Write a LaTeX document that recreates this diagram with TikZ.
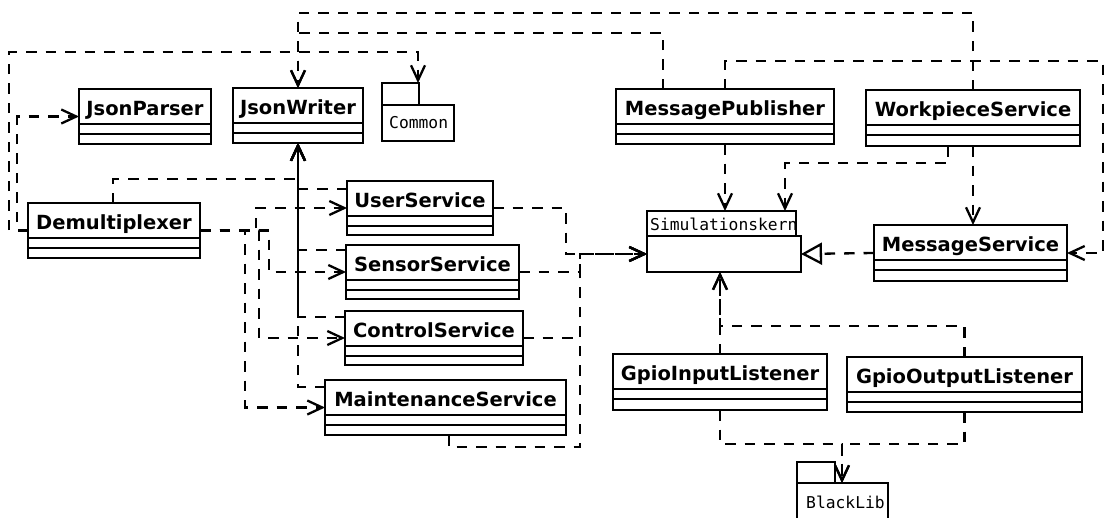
\documentclass[tikz,border=0pt]{standalone}
\usepackage{fontspec}
\newfontfamily\clsfont{DejaVu Sans}
\newfontfamily\pkgfont{DejaVu Sans Mono}
\usetikzlibrary{arrows.meta,calc}

\tikzset{
  clsbox/.style={draw, line width=2.8pt, fill=white, outer sep=0pt, inner sep=0pt, rectangle},
  pkgbox/.style={draw, line width=2.6pt, fill=white, outer sep=0pt, inner sep=0pt, rectangle},
  clsname/.style={font=\clsfont\bfseries\fontsize{19.5}{22}\selectfont, inner sep=0pt, anchor=base},
  pkgname/.style={font=\pkgfont\fontsize{16.3}{18}\selectfont, inner sep=0pt, anchor=base west},
  boxline/.style={line width=2.8pt},
  dep/.style={line width=2.3pt, dash pattern=on 10.5pt off 9pt, -{Straight Barb[length=15pt,width=14pt]}},
  real/.style={line width=2.3pt, dash pattern=on 10.5pt off 9pt, -{Triangle[open,length=21pt,width=22pt]}},
  trunkline/.style={line width=2.3pt}
}

\newcommand{\umlclass}[6]{%
  \node[clsbox, anchor=north west, minimum width={#4-#2}, minimum height={#5-#3}] (#1) at (#2,#3) {};
  \node[clsname] (#1-name) at ({(#2+#4)/2},{#3+26}) {#6};
  \draw[boxline] ($(#1.north west)+(0,35)$) -- ($(#1.north east)+(0,35)$);
  \draw[boxline] ($(#1.north west)+(0,45)$) -- ($(#1.north east)+(0,45)$);
}

\begin{document}
\begin{tikzpicture}[x=1pt,y=-1pt]
\clip (0,0) rectangle (1106,517);
\fill[white] (0,0) rectangle (1106,517);

% classes
\umlclass{jp}{79}{89}{211}{144}{JsonParser}
\umlclass{jw}{233}{88}{363}{143}{JsonWriter}
\umlclass{demux}{28}{203}{200}{258}{Demultiplexer}
\umlclass{us}{347}{181}{493}{235}{UserService}
\umlclass{ss}{346}{245}{519}{299}{SensorService}
\umlclass{cs}{345}{311}{523}{365}{ControlService}
\umlclass{ms}{325}{380}{566}{435}{MaintenanceService}
\umlclass{mp}{616}{89}{834}{144}{MessagePublisher}
\umlclass{wp}{866}{90}{1080}{146}{WorkpieceService}
\umlclass{msv}{874}{225}{1067}{281}{MessageService}
\umlclass{gi}{613}{354}{827}{410}{GpioInputListener}
\umlclass{go}{847}{357}{1082}{412}{GpioOutputListener}

% packages
\node[pkgbox, anchor=north west, minimum width=37, minimum height=22] (commontab) at (382,83) {};
\node[pkgbox, anchor=north west, minimum width=72, minimum height=36] (common) at (382,105) {};
\node[pkgname] (common-label) at (389,128) {Common};

\node[pkgbox, anchor=north west, minimum width=149, minimum height=25] (simtab) at (647,211) {};
\node[pkgbox, anchor=north west, minimum width=154, minimum height=36] (sim) at (647,236) {};
\begin{scope}
  \clip (648.2,212.2) rectangle (794.2,234.8);
  \node[pkgname] (sim-label) at (650,230) {Simulationskern};
\end{scope}

\node[pkgbox, anchor=north west, minimum width=38, minimum height=21] (bltab) at (797,462) {};
\node[pkgbox, anchor=north west, minimum width=91, minimum height=60] (bl) at (797,483) {};
\node[pkgname] (bl-label) at (806,508) {BlackLib};

% Demultiplexer dependencies
\draw[dep] (demux.west) -- (17,230.5) |- (jp.west);
\draw[dep] (demux.west) -- (9,230.5) -- (9,52) -| ($(commontab.north east)+(-1,0)$);
\draw[dep] ($(demux.north west)+(85,0)$) -- (113,179) -| (jw.south);
\draw[dep] (demux.east) -- (256,230.5) |- (us.west);
\draw[dep] (demux.east) -- (269,230.5) |- (ss.west);
\draw[dep] (demux.east) -- (259,230.5) |- (cs.west);
\draw[dep] (demux.east) -- (245,230.5) |- (ms.west);

% services -> JsonWriter
\coordinate (trunkend) at (298,317);
\draw[trunkline] (jw.south) -- (trunkend);
\draw[dep] ($(us.north west)+(0,8)$) -| (jw.south);
\draw[dep] ($(ss.north west)+(0,5)$) -| (jw.south);
\draw[dep] ($(cs.north west)+(0,6)$) -| (jw.south);
\draw[dep] ($(ms.north west)+(0,7)$) -| (jw.south);

% services -> Simulationskern
\draw[dep] (us.east) -- (566,208) |- (sim.west);
\draw[dep] (ss.east) -- (580,272) |- (sim.west);
\draw[dep] (cs.east) -- (580,338) |- (sim.west);
\draw[dep] ($(ms.south west)+(124,0)$) -- (449,447) -- (580,447) |- (sim.west);

% publisher / workpiece
\draw[dep] (mp.south) -- (mp.south |- simtab.north);
\draw[dep] ($(mp.north west)+(47,0)$) -- (663,33) -| (jw.north);
\draw[dep] (mp.north) -- (725,61) -- (1103,61) |- (msv.east);
\draw[dep] (wp.north) -- (973,13) -| (jw.north);
\draw[dep] ($(wp.south west)+(82,0)$) -- (948,163) -| ($(simtab.north east)+(-11,0)$);
\draw[dep] (wp.south) -- (wp.south |- msv.north);

% realization
\draw[real] (msv.west) -- (sim.east);

% gpio
\draw[dep] (gi.north) -- (gi.north |- sim.south);
\draw[dep] (go.north) -- (go.north |- 0,326) -| (gi.north |- sim.south);
\draw[dep] (gi.south) -- (gi.south |- 0,444) -| ($(bl.north west)+(45,0)$);
\draw[dep] (go.south) -- (go.south |- 0,444) -| ($(bl.north west)+(45,0)$);
\end{tikzpicture}
\end{document}
